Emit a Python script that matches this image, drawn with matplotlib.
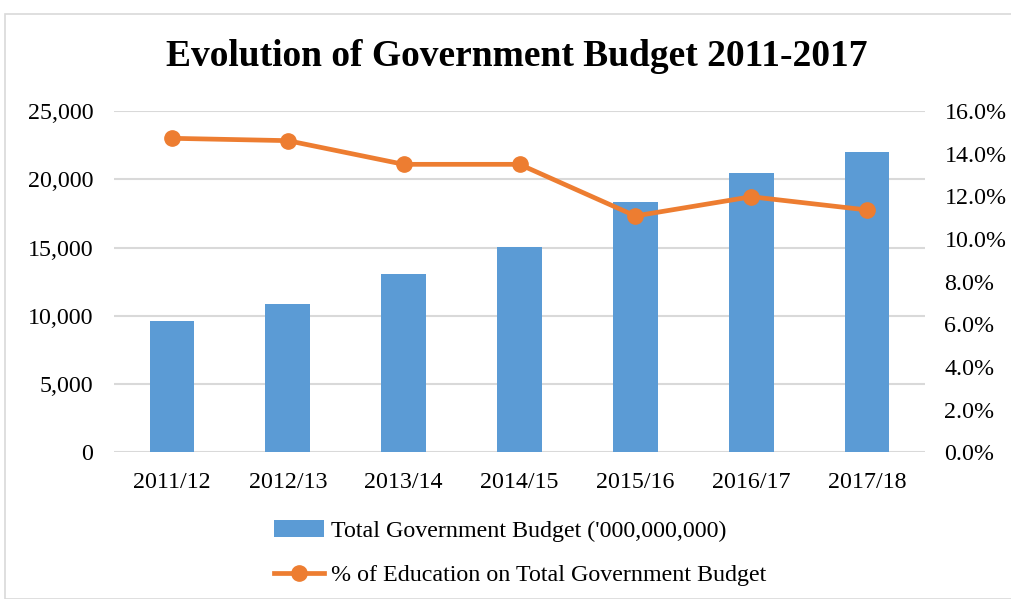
import matplotlib
matplotlib.use("Agg")
import matplotlib.pyplot as plt
import numpy as np
from matplotlib.patches import Rectangle
from matplotlib.ticker import FuncFormatter

plt.rcParams["font.family"] = ["Liberation Serif", "DejaVu Serif"]

years = ["2011/12", "2012/13", "2013/14", "2014/15", "2015/16", "2016/17", "2017/18"]
budget = [9620, 10890, 13060, 15040, 18310, 20440, 21980]
edu_pct = [14.72, 14.61, 13.50, 13.50, 11.08, 11.98, 11.36]

BLUE = "#5B9BD5"
ORANGE = "#ED7D31"
GRID = "#D9D9D9"
FS = 17.3

W, H = 1011, 599
fig = plt.figure(figsize=(W / 100, H / 100), dpi=100)

# chart area border
fig.patches.append(Rectangle((5 / W, 0), 1.2, 1 - 14 / H, transform=fig.transFigure,
                             fill=False, edgecolor="#D9D9D9", linewidth=1.2))

ax = fig.add_axes([114 / W, 1 - 452.3 / H, 811 / W, 341.3 / H])
x = np.arange(len(years))

ax.bar(x, budget, width=0.386, color=BLUE, zorder=2,
       label="Total Government Budget ('000,000,000)")
ax.set_ylim(0, 25000)
ax.set_xlim(-0.5, len(years) - 0.5)
ax.set_yticks(np.arange(0, 25001, 5000))
ax.yaxis.set_major_formatter(FuncFormatter(lambda v, p: f"{int(v):,}"))
ax.grid(axis="y", color=GRID, linewidth=1.5, zorder=0)
ax.set_xticks(x)
ax.set_xticklabels(years)
for s in ax.spines.values():
    s.set_visible(False)
ax.tick_params(axis="both", length=0, labelsize=FS)
ax.tick_params(axis="y", pad=15)
ax.tick_params(axis="x", pad=14)

ax2 = ax.twinx()
ax2.plot(x, edu_pct, color=ORANGE, linewidth=3.4, marker="o", markersize=11,
         label="% of Education on Total Government Budget", zorder=3)
ax2.set_ylim(0, 16)
ax2.set_yticks(np.arange(0, 16.1, 2))
ax2.yaxis.set_major_formatter(FuncFormatter(lambda v, p: f"{v:.1f}%"))
for s in ax2.spines.values():
    s.set_visible(False)
ax2.tick_params(axis="y", length=0, labelsize=FS, pad=14)

fig.text(517 / W, 1 - 57 / H, "Evolution of Government Budget 2011-2017",
         ha="center", va="center", fontsize=27, fontweight="bold")

h1, l1 = ax.get_legend_handles_labels()
h2, l2 = ax2.get_legend_handles_labels()
fig.legend(h1 + h2, l1 + l2, loc="center", bbox_to_anchor=(520 / W, 1 - 553 / H),
           ncol=1, frameon=False, fontsize=FS, handlelength=2.1, handletextpad=0.3,
           labelspacing=0.95)

fig.savefig("out.png", dpi=100)
